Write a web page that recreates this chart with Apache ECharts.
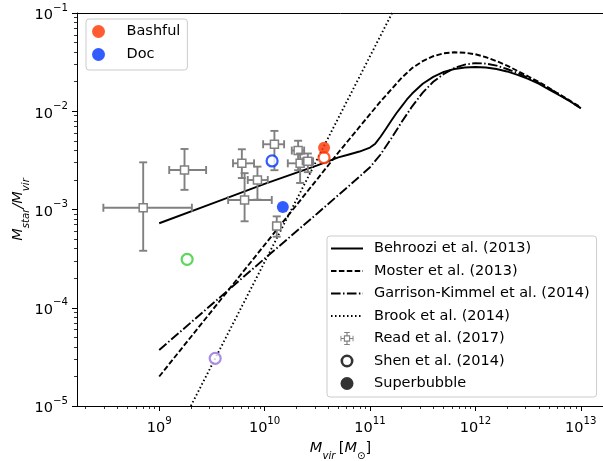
<!DOCTYPE html>
<html><head><meta charset="utf-8">
<script src="https://cdn.jsdelivr.net/npm/echarts@6/dist/echarts.min.js"></script>
<style>html,body{margin:0;padding:0;background:#fff}#c{width:603px;height:461px}</style>
</head><body><div id="c"></div>
<script>
// All values are log10 quantities: log10(Mvir/Msun) and log10(Mstar/Mvir)
const behrooziLogM  = [9.0, 9.5, 10.0, 10.5, 10.7, 10.8, 10.9, 11.0, 11.05, 11.1, 11.15, 11.2, 11.25, 11.3, 11.35, 11.4, 11.5, 11.6, 11.7, 11.8, 11.9, 12.0, 12.1, 12.2, 12.3, 12.4, 12.5, 12.6, 12.7, 12.8, 12.9, 13.0];
const behrooziLogR  = [-3.14, -2.94, -2.74, -2.55, -2.47, -2.44, -2.41, -2.37, -2.33, -2.26, -2.18, -2.10, -2.02, -1.95, -1.88, -1.82, -1.72, -1.65, -1.60, -1.57, -1.555, -1.55, -1.555, -1.57, -1.595, -1.63, -1.67, -1.72, -1.78, -1.84, -1.90, -1.97];
const mosterLogM    = [9.0, 10.0, 10.5, 10.7, 10.8, 10.9, 11.0, 11.1, 11.2, 11.3, 11.4, 11.5, 11.6, 11.7, 11.8, 11.9, 12.0, 12.1, 12.2, 12.3, 12.4, 12.5, 12.6, 12.7, 12.8, 12.9, 13.0];
const mosterLogR    = [-4.70, -3.36, -2.69, -2.42, -2.29, -2.16, -2.03, -1.90, -1.78, -1.66, -1.56, -1.49, -1.44, -1.41, -1.40, -1.405, -1.42, -1.45, -1.49, -1.535, -1.59, -1.645, -1.70, -1.765, -1.83, -1.895, -1.96];
const gkLogM        = [9.0, 10.0, 10.5, 10.8, 11.0, 11.1, 11.2, 11.3, 11.4, 11.5, 11.6, 11.7, 11.8, 11.9, 12.0, 12.1, 12.2, 12.3, 12.4, 12.5, 12.6, 12.7, 12.8, 12.9, 13.0];
const gkLogR        = [-4.43, -3.50, -3.04, -2.76, -2.57, -2.44, -2.28, -2.11, -1.95, -1.81, -1.70, -1.62, -1.56, -1.525, -1.51, -1.515, -1.535, -1.57, -1.61, -1.66, -1.71, -1.77, -1.83, -1.90, -1.97];
const brookLogM     = [9.30, 11.21];
const brookLogR     = [-5.0, -1.0];

// Read et al. (2017): centre and error-bar extents
const readLogM      = [8.848, 9.240, 9.784, 10.093, 10.318, 10.337, 10.41, 9.932, 9.81, 10.115];
const readLogMLo    = [8.47, 9.095, 9.70, 9.986, 10.258, 10.22, 10.36, 9.84, 9.654, 10.078];
const readLogMHi    = [9.31, 9.445, 9.90, 10.185, 10.375, 10.45, 10.46, 10.03, 10.068, 10.15];
const readLogR      = [-2.982, -2.598, -2.530, -2.336, -2.40, -2.53, -2.51, -2.70, -2.903, -3.168];
const readLogRLo    = [-3.42, -2.80, -2.68, -2.60, -2.60, -2.73, -2.62, -2.90, -3.12, -3.277];
const readLogRHi    = [-2.52, -2.384, -2.387, -2.20, -2.30, -2.43, -2.43, -2.564, -2.63, -3.07];

// Shen et al. (2014) open circles and Superbubble filled circles
const shenLogM      = [9.265, 9.531, 10.071, 10.564];
const shenLogR      = [-3.507, -4.515, -2.506, -2.473];
const shenColors    = ['#32cd32', '#9370db', '#0033ff', '#ff3300'];
const bubbleLogM    = [10.564, 10.173];
const bubbleLogR    = [-2.371, -2.975];
const bubbleColors  = ['#ff3300', '#0033ff'];
const galaxyNames   = ['Bashful', 'Doc'];
const galaxyColors  = ['#ff3300', '#0033ff'];

const xMajor = [9, 10, 11, 12, 13];
const yMajor = [-5, -4, -3, -2, -1];

const FONT = 'DejaVu Sans';
const FS = 14.5, FSS = 10.2;
const xMin = 8.22, xMax = 13.22, yMin = -5, yMax = -1;
const minors = (lo, hi) => { const out = []; for (let n = Math.floor(lo); n <= Math.ceil(hi); n++) for (let k = 2; k <= 9; k++) { const v = n + Math.log10(k); if (v > lo && v < hi) out.push(v); } return out; };
const zip = (a, b) => a.map((v, i) => [v, b[i]]);
const sup = v => '{b|10}{s|' + String(v).replace('-', '\u2212') + '}';
const richTick = { b: { fontFamily: FONT, fontSize: FS, color: '#000', lineHeight: 20, verticalAlign: 'bottom' }, s: { fontFamily: FONT, fontSize: FSS, color: '#000', lineHeight: 10, verticalAlign: 'top' } };
const richName = {
  i: { fontFamily: FONT, fontSize: FS, fontStyle: 'italic', color: '#000', lineHeight: 20, verticalAlign: 'top' },
  r: { fontFamily: FONT, fontSize: FS, color: '#000', lineHeight: 20, verticalAlign: 'top' },
  sub: { fontFamily: FONT, fontSize: FSS, fontStyle: 'italic', color: '#000', lineHeight: 10, verticalAlign: 'bottom' },
  subr: { fontFamily: FONT, fontSize: FSS, color: '#000', lineHeight: 10, verticalAlign: 'bottom' }
};
const LW = 1.9;
const lineSeries = (name, xs, ys, type) => ({
  name, type: 'line', data: zip(xs, ys), symbol: 'none', smooth: false, z: 2,
  lineStyle: { color: '#000', width: LW, type }, itemStyle: { color: '#000' }, clip: true
});

const readData = readLogM.map((m, i) => [m, readLogR[i], readLogMLo[i], readLogMHi[i], readLogRLo[i], readLogRHi[i]]);
const GRAY = '#808080';
const errIcon = 'path://M0,6.4H3.6V7.6H0Z M10.4,6.4H14V7.6H10.4Z M6.4,0H7.6V3.6H6.4Z M6.4,10.4H7.6V14H6.4Z M0,4H1V10H0Z M13,4H14V10H13Z M4,0H10V1H4Z M4,13H10V14H4Z M3.6,3.6H10.4V10.4H3.6Z M4.8,4.8V9.2H9.2V4.8Z';
const dotIcon = 'path://M6.5,0A6.5,6.5 0 1,1 6.5,13A6.5,6.5 0 1,1 6.5,0Z';
const ringIcon = 'path://M6.5,0A6.5,6.5 0 1,1 6.5,13A6.5,6.5 0 1,1 6.5,0Z M6.5,2.6A3.9,3.9 0 1,0 6.5,10.4A3.9,3.9 0 1,0 6.5,2.6Z';
const noSym = { opacity: 0 };
const legendText = { fontFamily: FONT, fontSize: FS, color: '#000', lineHeight: 14 };

const chart = echarts.init(document.getElementById('c'));
chart.setOption({
  animation: false,
  backgroundColor: '#fff',
  grid: { left: 77, top: 13, right: -1, bottom: 55, containLabel: false, outerBoundsMode: 'none', show: false },
  xAxis: [
    { type: 'value', min: xMin, max: xMax, position: 'bottom',
      axisLine: { show: true, lineStyle: { color: '#000', width: 1 } },
      axisTick: { show: true, length: 5, customValues: xMajor, lineStyle: { color: '#000', width: 1 } },
      axisLabel: { customValues: xMajor, margin: 10, formatter: v => sup(v), rich: richTick },
      splitLine: { show: false },
      name: '{i|M}{sub|vir} {r|[}{i|M}{subr|\u2299}{r|]}', nameLocation: 'middle', nameGap: 35, nameMoveOverlap: false,
      nameTextStyle: { rich: richName } },
    { type: 'value', min: xMin, max: xMax, position: 'bottom', gridIndex: 0,
      axisLine: { show: false }, axisLabel: { show: false }, splitLine: { show: false },
      axisTick: { show: true, length: 3, customValues: minors(xMin, xMax), lineStyle: { color: '#000', width: 0.8 } } },
    { type: 'value', min: xMin, max: xMax, position: 'top', gridIndex: 0,
      axisLine: { show: true, lineStyle: { color: '#000', width: 1 } },
      axisTick: { show: false }, axisLabel: { show: false }, splitLine: { show: false } }
  ],
  yAxis: [
    { type: 'value', min: yMin, max: yMax, position: 'left',
      axisLine: { show: true, lineStyle: { color: '#000', width: 1 } },
      axisTick: { show: true, length: 5, customValues: yMajor, lineStyle: { color: '#000', width: 1 } },
      axisLabel: { customValues: yMajor, margin: 9, formatter: v => sup(v), rich: richTick },
      splitLine: { show: false },
      name: '{i|M}{sub|star}{i|/M}{sub|vir}', nameLocation: 'middle', nameGap: 46, nameRotate: 90, nameMoveOverlap: false,
      nameTextStyle: { rich: richName } },
    { type: 'value', min: yMin, max: yMax, position: 'left', gridIndex: 0,
      axisLine: { show: false }, axisLabel: { show: false }, splitLine: { show: false },
      axisTick: { show: true, length: 3, customValues: minors(yMin, yMax), lineStyle: { color: '#000', width: 0.8 } } }
  ],
  legend: [
    { data: galaxyNames.map((n, i) => ({ name: n, icon: dotIcon, itemStyle: { color: galaxyColors[i] } })),
      orient: 'vertical', left: 86, top: 19, itemWidth: 28, itemHeight: 13, itemGap: 8,
      padding: [5, 7, 8, 6], backgroundColor: '#fff', borderColor: '#cccccc', borderWidth: 1, borderRadius: 3,
      selectedMode: false, textStyle: Object.assign({ padding: [0, 0, 0, 9] }, legendText) },
    { data: [
        { name: 'Behroozi et al. (2013)', itemStyle: noSym },
        { name: 'Moster et al. (2013)', itemStyle: noSym },
        { name: 'Garrison-Kimmel et al. (2014)', itemStyle: noSym },
        { name: 'Brook et al. (2014)', itemStyle: noSym },
        { name: 'Read et al. (2017)', icon: errIcon, itemStyle: { color: GRAY } },
        { name: 'Shen et al. (2014)', icon: ringIcon, itemStyle: { color: '#000', borderWidth: 0 } },
        { name: 'Superbubble', icon: dotIcon, itemStyle: { color: '#000' } }
      ],
      orient: 'vertical', left: 327, top: 236, itemWidth: 32, itemHeight: 13, itemGap: 7.5,
      padding: [5, 7, 6, 3], backgroundColor: '#fff', borderColor: '#cccccc', borderWidth: 1, borderRadius: 3,
      selectedMode: false, textStyle: Object.assign({ padding: [0, 0, 0, 6] }, legendText) }
  ],
  series: [
    lineSeries('Behroozi et al. (2013)', behrooziLogM, behrooziLogR, 'solid'),
    lineSeries('Moster et al. (2013)', mosterLogM, mosterLogR, [5.5, 2.4]),
    lineSeries('Garrison-Kimmel et al. (2014)', gkLogM, gkLogR, [9.6, 2.4, 1.5, 2.4]),
    lineSeries('Brook et al. (2014)', brookLogM, brookLogR, [1.5, 2.5]),
    { name: 'Read et al. (2017)', type: 'custom', data: readData, z: 3, itemStyle: { color: GRAY },
      encode: { x: 0, y: 1 },
      renderItem: (params, api) => {
        const m = api.value(0), r = api.value(1);
        const c = api.coord([m, r]), l = api.coord([api.value(2), r]), h = api.coord([api.value(3), r]);
        const lo = api.coord([m, api.value(4)]), hi = api.coord([m, api.value(5)]);
        const st = { stroke: GRAY, lineWidth: 1.9, fill: null };
        const cap = 4;
        const line = (x1, y1, x2, y2) => ({ type: 'line', shape: { x1, y1, x2, y2 }, style: st });
        return { type: 'group', children: [
          line(l[0], c[1], h[0], c[1]), line(c[0], lo[1], c[0], hi[1]),
          line(l[0], c[1] - cap, l[0], c[1] + cap), line(h[0], c[1] - cap, h[0], c[1] + cap),
          line(c[0] - cap, lo[1], c[0] + cap, lo[1]), line(c[0] - cap, hi[1], c[0] + cap, hi[1]),
          { type: 'rect', shape: { x: c[0] - 4, y: c[1] - 4, width: 8, height: 8 }, style: { fill: '#fff', stroke: GRAY, lineWidth: 1.5 } }
        ] };
      } },
    { name: 'Shen et al. (2014)', type: 'scatter', z: 4, symbol: 'circle', symbolSize: 11,
      itemStyle: { color: '#fff', borderColor: '#000', borderWidth: 2.2 },
      data: shenLogM.map((m, i) => ({ value: [m, shenLogR[i]], itemStyle: { color: '#fff', borderColor: shenColors[i], borderWidth: 2.2 } })) },
    { name: 'Superbubble', type: 'scatter', z: 5, symbol: 'circle', symbolSize: 12,
      itemStyle: { color: '#000' },
      data: bubbleLogM.map((m, i) => ({ value: [m, bubbleLogR[i]], itemStyle: { color: bubbleColors[i] } })) },
    ...galaxyNames.map((n, i) => ({ name: n, type: 'scatter', data: [], itemStyle: { color: galaxyColors[i] } }))
  ]
});
</script></body></html>
